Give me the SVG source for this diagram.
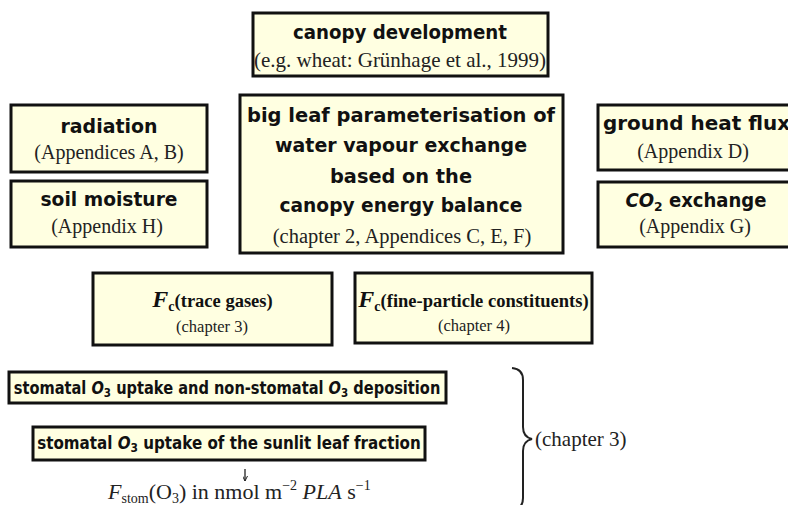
<svg xmlns="http://www.w3.org/2000/svg" width="788" height="505" viewBox="0 0 788 505">
<defs>
<style>
.box{fill:#FFFFE1;stroke:#111;stroke-width:3}
.h{font-family:"DejaVu Sans","Liberation Sans",sans-serif;font-weight:bold;fill:#111;text-anchor:middle}
.s{font-family:"Liberation Serif","Times New Roman",serif;fill:#222;text-anchor:middle}
.b{font-family:"Liberation Serif","Times New Roman",serif;font-weight:bold;fill:#111;text-anchor:middle}
</style>
<marker id="ah" viewBox="0 0 10 10" refX="10" refY="5" markerWidth="5" markerHeight="5" orient="auto" markerUnits="userSpaceOnUse"><path d="M0,0 L10,5 L0,10" fill="none" stroke="#222" stroke-width="2"/></marker>
</defs>
<rect width="788" height="505" fill="#ffffff"/>

<g id="canopy">
<rect class="box" x="253" y="13" width="295" height="63"/>
<text class="h" x="400" y="39" font-size="19" textLength="214" lengthAdjust="spacingAndGlyphs">canopy development</text>
<text class="s" x="400" y="67" font-size="21">(e.g. wheat: Grünhage et al., 1999)</text>
</g>

<g id="radiation">
<rect class="box" x="11" y="105" width="196" height="67"/>
<text class="h" x="109" y="133" font-size="19" textLength="97" lengthAdjust="spacingAndGlyphs">radiation</text>
<text class="s" x="109" y="159" font-size="20">(Appendices A, B)</text>
</g>

<g id="soil">
<rect class="box" x="11" y="181" width="196" height="66"/>
<text class="h" x="109" y="206" font-size="19" textLength="137" lengthAdjust="spacingAndGlyphs">soil moisture</text>
<text class="s" x="107" y="233" font-size="20">(Appendix H)</text>
</g>

<g id="bigleaf">
<rect class="box" x="240" y="95" width="323" height="158"/>
<text class="h" x="401" y="122" font-size="19" textLength="308" lengthAdjust="spacingAndGlyphs">big leaf parameterisation of</text>
<text class="h" x="401" y="152" font-size="19" textLength="252" lengthAdjust="spacingAndGlyphs">water vapour exchange</text>
<text class="h" x="401" y="183" font-size="19" textLength="142" lengthAdjust="spacingAndGlyphs">based on the</text>
<text class="h" x="401" y="212" font-size="19" textLength="243" lengthAdjust="spacingAndGlyphs">canopy energy balance</text>
<text class="s" x="402" y="243" font-size="20.5">(chapter 2, Appendices C, E, F)</text>
</g>

<g id="ground">
<rect class="box" x="598" y="105" width="200" height="65"/>
<text class="h" x="603" y="130" font-size="19" style="text-anchor:start" textLength="187" lengthAdjust="spacingAndGlyphs">ground heat flux</text>
<text class="s" x="693" y="158" font-size="20">(Appendix D)</text>
</g>

<g id="co2">
<rect class="box" x="598" y="182" width="200" height="65"/>
<text class="h" transform="translate(696,207) scale(0.95,1)" font-size="19"><tspan font-style="italic">CO</tspan><tspan font-size="13" dy="4">2</tspan><tspan dy="-4"> exchange</tspan></text>
<text class="s" x="695" y="233" font-size="20">(Appendix G)</text>
</g>

<g id="fc-trace">
<rect class="box" x="93" y="273" width="239" height="72"/>
<text class="b" x="212.5" y="307" font-size="18.5"><tspan font-style="italic" font-size="24">F</tspan><tspan font-size="14" dy="4">c</tspan><tspan dy="-4">(trace gases)</tspan></text>
<text class="s" x="212" y="332" font-size="16.5">(chapter 3)</text>
</g>

<g id="fc-fine">
<rect class="box" x="355" y="273" width="237" height="70"/>
<text class="b" x="473.5" y="307" font-size="18.5"><tspan font-style="italic" font-size="24">F</tspan><tspan font-size="14" dy="4">c</tspan><tspan dy="-4">(fine-particle constituents)</tspan></text>
<text class="s" x="474" y="331" font-size="16.5">(chapter 4)</text>
</g>

<g id="nonstomatal">
<rect class="box" x="9" y="372" width="437" height="31"/>
<text class="h" transform="translate(227,394) scale(0.86,1)" font-size="17">stomatal <tspan font-style="italic">O</tspan><tspan font-size="12" dy="3">3</tspan><tspan dy="-3"> uptake and non-stomatal </tspan><tspan font-style="italic">O</tspan><tspan font-size="12" dy="3">3</tspan><tspan dy="-3"> deposition</tspan></text>
</g>

<g id="sunlit">
<rect class="box" x="33" y="427" width="392" height="33"/>
<text class="h" transform="translate(229,449) scale(0.89,1)" font-size="17">stomatal <tspan font-style="italic">O</tspan><tspan font-size="12" dy="3">3</tspan><tspan dy="-3"> uptake of the sunlit leaf fraction</tspan></text>
</g>

<g id="fstom">
<text x="108" y="499" font-size="22" font-family="Liberation Serif, Times New Roman, serif" fill="#222"><tspan font-style="italic">F</tspan><tspan font-size="14" dy="4">stom</tspan><tspan dy="-4">(O</tspan><tspan font-size="14" dy="4">3</tspan><tspan dy="-4">) in nmol m</tspan><tspan font-size="14" dy="-9">−2</tspan><tspan dy="9" font-style="italic"> PLA</tspan><tspan> s</tspan><tspan font-size="14" dy="-9">−1</tspan></text>
</g>

<g id="chapter3-brace">
<path d="M512,368 Q523,369 523,380 L523,427 Q523,437 532,439 Q523,441 523,451 L523,498 Q523,509 512,510" fill="none" stroke="#222" stroke-width="2"/>
<text x="535" y="446" font-size="21" font-family="Liberation Serif, Times New Roman, serif" fill="#222">(chapter 3)</text>
</g>

<g id="connectors">
<line x1="245" y1="469" x2="245" y2="481" stroke="#222" stroke-width="1.3" marker-end="url(#ah)"/>
</g>
</svg>
